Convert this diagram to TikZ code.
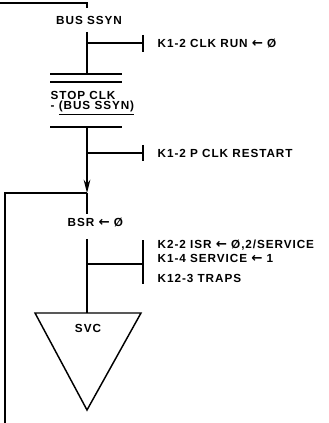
\documentclass[tikz,border=0pt]{standalone}
\usepackage{fontspec}
\setmainfont[LetterSpace=8]{Liberation Sans}
\newfontfamily\arrowfont{DejaVu Sans}
\usetikzlibrary{arrows.meta}
\usetikzlibrary{positioning}
\newcommand{\lgets}{{\arrowfont\bfseries\fontsize{10}{10}\selectfont ←}}

\begin{document}
\begin{tikzpicture}[x=0.75pt, y=-0.75pt, line width=1.1pt,
    font=\bfseries\fontsize{8.8}{9}\selectfont,
    txt/.style={anchor=west, inner sep=0pt}]
      \useasboundingbox (0,0) rectangle (328,423);

      % main line coordinates
      \coordinate (in) at (0,3);
      \coordinate (s0) at (87,8);
      \coordinate (s1) at (87,32);
      \coordinate (s2) at (87,74);
      \coordinate (s3) at (87,127);
      \coordinate (join) at (87,193);
      \coordinate (s4) at (87,214);
      \coordinate (s5) at (87,239);
      \coordinate (loop) at (5,423);

      \node (bus) at (89,20) {BUS SSYN};
      \draw (in) -| (s0);
      \draw (s1) -- (s2);

      % branches with ticks
      \foreach \yb/\ya/\yc in {43/35/52, 153/145/161, 264/240/284}{
        \draw (87,\yb) -- (143,\yb);
        \draw (143,\ya) -- (143,\yc);
      }

      % stop clk box
      \foreach \y in {74, 82, 127}{
        \draw (50,\y) -- (122,\y);
      }
      \node[txt] (stop) at (50,95) {STOP CLK};
      \node[txt] (ssyn) at (50,108) {- \underline{(BUS SSYN)}};

      \draw[-{Stealth[length=10pt, width=5pt]}] (s3) -- (join);
      \draw (join) -| (loop);
      \draw (join) -- (s4);

      \node[txt] (bsr) at (67,222) {BSR \lgets\ Ø};

      % svc
      \coordinate (svctop) at (87,313);
      \coordinate (svcl) at (35,313);
      \coordinate (svcr) at (141,313);
      \coordinate (svcapex) at (87,410);
      \draw (s5) -- (svctop);
      \draw (svcl) -- (svcr) -- (svcapex) -- cycle;
      \node (svc) at (88,328) {SVC};

      \node[txt] (run) at (157,43) {K1-2 CLK RUN \lgets\ Ø};
      \node[txt] (restart) at (157,153) {K1-2 P CLK RESTART};
      \node[txt] (isr) at (157,245) {K2-2 ISR \lgets\ Ø,2/SERVICE};
      \node[txt] (service) at (157,258) {K1-4 SERVICE \lgets\ 1};
      \node[txt] (traps) at (157,278) {K12-3 TRAPS};

    \end{tikzpicture}
\end{document}
